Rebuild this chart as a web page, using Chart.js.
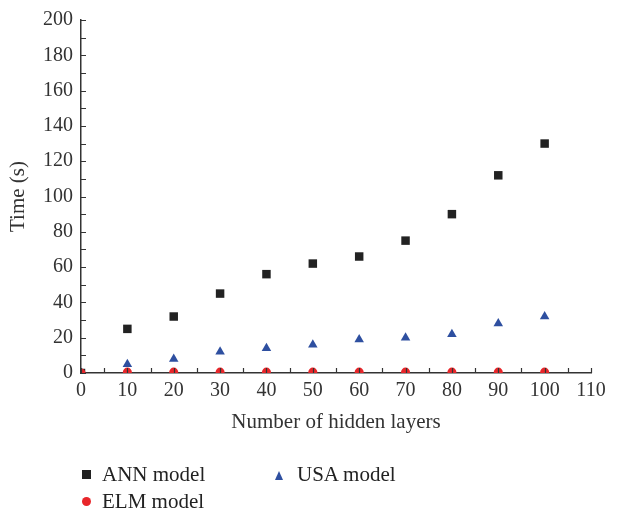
<!DOCTYPE html>
<html><head><meta charset="utf-8">
<script src="https://cdn.jsdelivr.net/npm/chart.js@4"></script>
<style>
html,body{margin:0;padding:0;background:#fff;}
#wrap{position:relative;width:623px;height:510px;overflow:hidden;}
canvas{position:absolute;left:0;top:0;}
.lg{position:absolute;font-family:"Liberation Serif","Times New Roman",serif;font-size:21px;color:#222;white-space:nowrap;line-height:21px;}
.mk{position:absolute;}
</style></head>
<body><div id="wrap"><canvas id="c" width="623" height="510"></canvas>
<div class="mk" style="left:82px;top:470px;width:9px;height:9px;background:#222;"></div>
<div class="lg" style="left:102px;top:464px;">ANN model</div>
<div class="mk" style="left:275px;top:471px;width:0;height:0;border-left:4.5px solid transparent;border-right:4.5px solid transparent;border-bottom:9px solid #2e4fa0;"></div>
<div class="lg" style="left:297px;top:464px;">USA model</div>
<div class="mk" style="left:82px;top:497px;width:9px;height:9px;border-radius:50%;background:#e8262a;"></div>
<div class="lg" style="left:102px;top:491px;">ELM model</div>
</div>
<script>
const hiddenLayers = [0,10,20,30,40,50,60,70,80,90,100];
const annTime = [0,25,32,45,56,62,66,75,90,112,130];
const usaTime = [0,5,8,12,14,16,19,20,22,28,32];
const elmTime = [0,0.5,0.5,0.5,0.5,0.5,0.5,0.5,0.5,0.5,0.5];
const xTicks = [0,10,20,30,40,50,60,70,80,90,100,110];
const yTicks = [0,20,40,60,80,100,120,140,160,180,200];

const pts = arr => hiddenLayers.map((x,i)=>({x:x,y:arr[i]}));
const FAM = '"Liberation Serif","Times New Roman",serif';
const TICKFONT = {family:FAM, size:20};
const TITLEFONT = {family:FAM, size:21};

const inwardTicks = {
  id:'inwardTicks',
  afterDraw(chart){
    const {ctx, chartArea:a, scales:{x,y}} = chart;
    ctx.save();
    ctx.strokeStyle='#333'; ctx.lineWidth=1.2;
    ctx.beginPath();
    for(let v=0; v<=200; v+=10){
      const py=Math.round(y.getPixelForValue(v))+0.5;
      ctx.moveTo(a.left,py); ctx.lineTo(a.left+5,py);
    }
    for(let v=0; v<=110; v+=5){
      const px=Math.round(x.getPixelForValue(v))+0.5;
      ctx.moveTo(px,a.bottom); ctx.lineTo(px,a.bottom-5);
    }
    ctx.stroke();
    ctx.restore();
  }
};

new Chart(document.getElementById('c'), {
  type:'scatter',
  data:{datasets:[
    {label:'ELM model', data:pts(elmTime), pointStyle:'circle', pointRadius:4.5, backgroundColor:'#e8262a', borderColor:'#e8262a', borderWidth:0, clip:0},
    {label:'USA model', data:pts(usaTime), pointStyle:'triangle', pointRadius:5.5, backgroundColor:'#2e4fa0', borderColor:'#2e4fa0', borderWidth:0, clip:0},
    {label:'ANN model', data:pts(annTime), pointStyle:'rect', pointRadius:6, backgroundColor:'#222', borderColor:'#222', borderWidth:0, clip:0}
  ]},
  options:{
    responsive:false, animation:false,
    layout:{padding:{left:6,right:32,top:18,bottom:75}},
    plugins:{legend:{display:false}, tooltip:{enabled:false}},
    scales:{
      x:{type:'linear', min:0, max:110,
        afterBuildTicks(s){ s.ticks = xTicks.map(v=>({value:v})); },
        afterFit(s){ s.height=62; },
        grid:{display:true, drawOnChartArea:false, drawTicks:false},
        border:{display:true, color:'#333', width:1.5},
        ticks:{font:TICKFONT, color:'#333', padding:6, maxRotation:0},
        title:{display:true, text:'Number of hidden layers', font:TITLEFONT, color:'#333', padding:{top:4,bottom:0}}
      },
      y:{type:'linear', min:0, max:200,
        afterBuildTicks(s){ s.ticks = yTicks.map(v=>({value:v})); },
        afterFit(s){ s.width=75; },
        grid:{display:true, drawOnChartArea:false, drawTicks:false},
        border:{display:true, color:'#333', width:1.5},
        ticks:{font:TICKFONT, color:'#333', padding:8},
        title:{display:true, text:'Time (s)', font:TITLEFONT, color:'#333', padding:{top:0,bottom:4}}
      }
    }
  },
  plugins:[inwardTicks]
});
</script></body></html>
